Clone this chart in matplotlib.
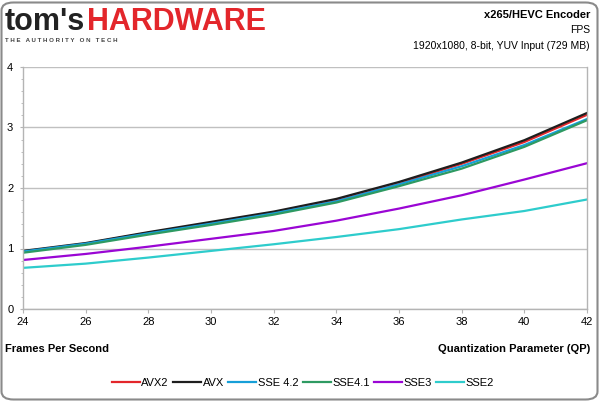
import numpy as np
import matplotlib
matplotlib.use("Agg")
import matplotlib.pyplot as plt
from matplotlib.patches import FancyBboxPatch
from matplotlib.ticker import MultipleLocator

plt.rcParams['font.family'] = ['Liberation Sans', 'DejaVu Sans']

# ---- data ----
qp = [24, 26, 28, 30, 32, 34, 36, 38, 40, 42]
avx2 = [0.95, 1.08, 1.26, 1.42, 1.59, 1.80, 2.08, 2.40, 2.76, 3.21]
avx = [0.96, 1.09, 1.27, 1.44, 1.61, 1.82, 2.10, 2.42, 2.79, 3.24]
sse42 = [0.95, 1.08, 1.25, 1.41, 1.58, 1.78, 2.06, 2.36, 2.71, 3.14]
sse41 = [0.93, 1.06, 1.23, 1.39, 1.56, 1.76, 2.03, 2.32, 2.68, 3.12]
sse3 = [0.81, 0.91, 1.03, 1.16, 1.29, 1.46, 1.66, 1.88, 2.14, 2.41]
sse2 = [0.68, 0.75, 0.85, 0.96, 1.07, 1.19, 1.32, 1.48, 1.62, 1.81]

names = ["AVX2", "AVX", "SSE 4.2", "SSE4.1", "SSE3", "SSE2"]
series = [avx2, avx, sse42, sse41, sse3, sse2]
colors = ["#e3262b", "#1e1e1e", "#169fd8", "#2e9a62", "#9a06d4", "#2ecccc"]

W, H = 600, 401
fig = plt.figure(figsize=(W / 100, H / 100), dpi=100)

# outer rounded frame (behind everything)
frame = FancyBboxPatch((1.5 / W, 1.5 / H), 1 - 4 / W, 1 - 4 / H,
                       boxstyle="round,pad=0,rounding_size=0.02",
                       transform=fig.transFigure, facecolor="white",
                       edgecolor="#8a8a8a", linewidth=1.5, zorder=-5)
fig.patches.append(frame)

# plot area
ax = fig.add_axes([23 / W, 1 - 309 / H, (587 - 23) / W, (309 - 67) / H])
ax.set_zorder(2)
ax.set_facecolor("none")
for name, ys, c in zip(names, series, colors):
    ax.plot(qp, ys, color=c, lw=1.6, label=name)

ax.set_xlim(24, 42)
ax.set_ylim(0, 4)
ax.set_xticks(qp)
ax.yaxis.set_major_locator(MultipleLocator(1))
ax.yaxis.set_minor_locator(MultipleLocator(0.2))
ax.grid(axis="y", color="#c0c0c0", lw=1)
ax.set_axisbelow(True)
for s in ["left", "bottom", "right"]:
    ax.spines[s].set_color("#b4b4b4")
    ax.spines[s].set_linewidth(1)
ax.spines["top"].set_visible(False)
ax.tick_params(axis="both", which="both", color="#b4b4b4", labelsize=8,
               labelcolor="black")
ax.tick_params(axis="y", which="major", length=2.5, pad=4.5)
ax.tick_params(axis="y", which="minor", length=1.5)
ax.tick_params(axis="x", length=3, pad=3)

# header / logo
fig.text(5 / W, 1 - 30 / H, "tom's", fontsize=22, fontweight="bold",
         color="#222222", va="baseline")
fig.text(87 / W, 1 - 30 / H, "HARDWARE", fontsize=22, fontweight="bold",
         color="#e3262b", va="baseline")
fig.text(5 / W, 1 - 42 / H, "T H E   A U T H O R I T Y   O N   T E C H",
         fontsize=4.4, fontweight="bold", color="#444444", va="baseline")

fig.text(590 / W, 1 - 15 / H, "x265/HEVC Encoder", fontsize=8,
         fontweight="bold", ha="right", va="center")
fig.text(590 / W, 1 - 30 / H, "FPS", fontsize=7.5, ha="right", va="center")
fig.text(590 / W, 1 - 46 / H, "1920x1080, 8-bit, YUV Input (729 MB)",
         fontsize=7.5, ha="right", va="center")

fig.text(5 / W, 1 - 349 / H, "Frames Per Second", fontsize=8,
         fontweight="bold", va="center")
fig.text(590 / W, 1 - 349 / H, "Quantization Parameter (QP)", fontsize=8,
         fontweight="bold", ha="right", va="center")

fig.legend(loc="center", bbox_to_anchor=(0.505, 1 - 383 / H), ncol=6,
           frameon=False, fontsize=8, handlelength=2.5, handletextpad=0.15,
           columnspacing=0.4)

fig.savefig("out.png", dpi=100)
